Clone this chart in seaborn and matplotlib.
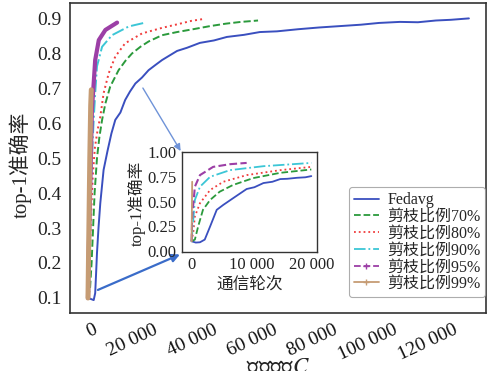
import matplotlib
matplotlib.use("Agg")
import matplotlib.pyplot as plt
import matplotlib.transforms as mtransforms
from matplotlib.lines import Line2D
import seaborn as sns
import pandas as pd

# ---------------- data (main: communication cost C) ----------------
fed_cost = [0, 1000, 1900, 2400, 2700, 3000, 3500, 4100, 5200, 6500, 7800, 9100, 10800, 12400, 14000,
            15800, 18000, 20200, 22500, 24700, 27000, 29700, 33000, 37300, 42000, 46300, 52000, 57300,
            63000, 70000, 77000, 84000, 91000, 97000, 104000, 110000, 116000, 121000, 127000]
fed_acc = [0.100, 0.097, 0.094, 0.114, 0.170, 0.229, 0.300, 0.371, 0.466, 0.520, 0.570, 0.609, 0.630,
           0.666, 0.690, 0.713, 0.730, 0.751, 0.766, 0.780, 0.792, 0.806, 0.815, 0.829, 0.836, 0.846,
           0.852, 0.860, 0.862, 0.868, 0.873, 0.877, 0.881, 0.886, 0.889, 0.888, 0.893, 0.895, 0.899]

p70_cost = [0, 700, 1200, 1700, 2200, 3000, 3800, 4700, 5800, 7400, 10200, 12500, 14700, 17500, 20200,
            24700, 29700, 35000, 40700, 46000, 51000, 54000, 56700]
p70_acc = [0.100, 0.130, 0.200, 0.300, 0.400, 0.500, 0.560, 0.609, 0.656, 0.704, 0.751, 0.778, 0.799,
           0.818, 0.833, 0.851, 0.860, 0.868, 0.877, 0.884, 0.889, 0.891, 0.893]

p80_cost = [0, 500, 1000, 1600, 2300, 3200, 4100, 5200, 6900, 9100, 12400, 18000, 24700, 30700, 34500, 38300]
p80_acc = [0.100, 0.200, 0.330, 0.450, 0.530, 0.580, 0.618, 0.685, 0.742, 0.790, 0.828, 0.856, 0.872,
           0.884, 0.892, 0.897]

p90_cost = [0, 400, 900, 1400, 1900, 2400, 3000, 4700, 8000, 13600, 19100]
p90_acc = [0.100, 0.250, 0.400, 0.520, 0.609, 0.685, 0.762, 0.818, 0.851, 0.876, 0.887]

p95_cost = [0, 300, 700, 1000, 1300, 1900, 2400, 3600, 5800, 9700]
p95_acc = [0.100, 0.250, 0.400, 0.520, 0.637, 0.714, 0.780, 0.837, 0.866, 0.887]

p99_cost = [0, 300, 600, 900, 1100]
p99_acc = [0.100, 0.300, 0.500, 0.650, 0.695]

# ---------------- data (inset: communication rounds) ----------------
fed_rounds = [0, 700, 1400, 2200, 3100, 4200, 5300, 7000, 9200, 10500, 12000, 13500, 14800, 16000,
              17600, 19000, 20000]
fed_acc_r = [0.100, 0.087, 0.090, 0.117, 0.250, 0.417, 0.467, 0.537, 0.627, 0.645, 0.687, 0.700,
             0.727, 0.730, 0.740, 0.745, 0.757]
p70_rounds = [0, 550, 1100, 1900, 3100, 4700, 6900, 10300, 14800, 20000]
p70_acc_r = [0.100, 0.117, 0.250, 0.417, 0.517, 0.600, 0.667, 0.737, 0.790, 0.824]
p80_rounds = [0, 300, 550, 1400, 3100, 5300, 9200, 14800, 20000]
p80_acc_r = [0.100, 0.200, 0.350, 0.484, 0.617, 0.700, 0.767, 0.817, 0.850]
p90_rounds = [0, 100, 550, 1400, 3100, 6400, 12000, 20000]
p90_acc_r = [0.100, 0.180, 0.517, 0.650, 0.750, 0.817, 0.857, 0.890]
p95_rounds = [0, 100, 550, 1400, 3600, 6400, 9200]
p95_acc_r = [0.100, 0.350, 0.650, 0.767, 0.850, 0.877, 0.890]
p99_rounds = [0, 50, 100]
p99_acc_r = [0.100, 0.400, 0.700]

labels = ["Fedavg", "剪枝比例70%", "剪枝比例80%", "剪枝比例90%", "剪枝比例95%", "剪枝比例99%"]
main_x_ticks = [0, 20000, 40000, 60000, 80000, 100000, 120000]
main_x_ticklabels = ["0", "20 000", "40 000", "60 000", "80 000", "100 000", "120 000"]
main_y_ticks = [0.1, 0.2, 0.3, 0.4, 0.5, 0.6, 0.7, 0.8, 0.9]
ins_x_ticks = [0, 10000, 20000]
ins_x_ticklabels = ["0", "10 000", "20 000"]
ins_y_ticks = [0.0, 0.25, 0.5, 0.75, 1.0]

# ---------------- style ----------------
sns.set_style("white")
plt.rcParams["font.family"] = ["Liberation Serif", "Noto Sans CJK SC"]
plt.rcParams["mathtext.fontset"] = "stix"
plt.rcParams["axes.unicode_minus"] = False

colors = ["#3a4fbf", "#2b9a3c", "#f03c3c", "#3cc6d6", "#9c3fa6", "#c69c74"]
styles = ["-", "--", ":", "-.", "--", "-"]

fig = plt.figure(figsize=(4.88, 3.71), dpi=100)
ax = fig.add_axes([70 / 488, 1 - 313 / 371, 416 / 488, 310 / 371])

main_series = [(fed_cost, fed_acc), (p70_cost, p70_acc), (p80_cost, p80_acc),
               (p90_cost, p90_acc), (p95_cost, p95_acc), (p99_cost, p99_acc)]
main_lw = [1.4, 1.4, 1.4, 1.4, 3.0, 3.6]
main_ls = ["-", "--", ":", "-.", "-", "-"]
for (xs, ys), c, ls, lw in zip(main_series, colors, main_ls, main_lw):
    df = pd.DataFrame({"x": xs, "y": ys})
    sns.lineplot(data=df, x="x", y="y", ax=ax, color=c, linestyle=ls, lw=lw,
                 sort=False, estimator=None)

ax.set_xlim(-6000, 132700)
ax.set_ylim(0.0571, 0.943)
ax.set_xticks(main_x_ticks)
ax.set_xticklabels(main_x_ticklabels, rotation=25, ha="right", rotation_mode="anchor")
ax.set_yticks(main_y_ticks)
ax.set_yticklabels([f"{v:.1f}" for v in main_y_ticks])
ax.tick_params(direction="in", length=4, width=1, labelsize=14, colors="#222222", pad=6)
shift = mtransforms.ScaledTranslation(5 / 100, 0, fig.dpi_scale_trans)
for lab in ax.get_xticklabels():
    lab.set_color("#111111")
    lab.set_transform(lab.get_transform() + shift)
for s in ax.spines.values():
    s.set_color("#333333")
    s.set_linewidth(1.2)
ax.set_xlabel("通信成本$C$", fontsize=16.5)
ax.xaxis.set_label_coords(0.5, -0.142)
ax.xaxis.label.set_va("top")
ax.set_ylabel("top-1准确率", fontsize=15)
ax.yaxis.set_label_coords(-0.092, 0.477)

# legend
handles = []
markers = [None, None, None, None, "+", "+"]
for c, ls, m in zip(colors, styles, markers):
    handles.append(Line2D([0], [0], color=c, linestyle=ls, lw=1.3, marker=m, markersize=5))
leg = ax.legend(handles, labels, loc="lower right", bbox_to_anchor=(0.998, 0.052),
                borderaxespad=0.0, fontsize=11.5, handlelength=1.6, labelspacing=0.05,
                handletextpad=0.5, borderpad=0.3, frameon=True, fancybox=True)
leg.get_frame().set_edgecolor("#999999")
leg.get_frame().set_linewidth(0.8)

# inset
axins = fig.add_axes([182 / 488, 1 - 251.5 / 371, 134.7 / 488, 99.5 / 371])
ins_series = [(fed_rounds, fed_acc_r), (p70_rounds, p70_acc_r), (p80_rounds, p80_acc_r),
              (p90_rounds, p90_acc_r), (p95_rounds, p95_acc_r), (p99_rounds, p99_acc_r)]
ins_lw = [1.3, 1.3, 1.3, 1.3, 1.5, 1.3]
for (xs, ys), c, ls, lw in zip(ins_series, colors, styles, ins_lw):
    df = pd.DataFrame({"x": xs, "y": ys})
    sns.lineplot(data=df, x="x", y="y", ax=axins, color=c, linestyle=ls, lw=lw,
                 sort=False, estimator=None)
axins.set_xlim(-1600, 20900)
axins.set_ylim(-0.003, 1.0)
axins.set_xticks(ins_x_ticks)
axins.set_xticklabels(ins_x_ticklabels)
axins.set_yticks(ins_y_ticks)
axins.set_yticklabels([f"{v:.2f}" for v in ins_y_ticks])
axins.tick_params(direction="in", length=3, width=0.9, labelsize=12, colors="#222222", pad=4)
for s in axins.spines.values():
    s.set_color("#333333")
    s.set_linewidth(1.0)
axins.set_xlabel("通信轮次", fontsize=12)
axins.xaxis.set_label_coords(0.5, -0.25)
axins.xaxis.label.set_va("top")
axins.set_ylabel("top-1准确率", fontsize=12)
axins.yaxis.set_label_coords(-0.265, 0.48)

# arrows pointing to the inset
arrow_color = "#3a6cc9"
ax.annotate("", xy=(-0.01, 1.01), xycoords=axins.transAxes, xytext=(18300, 0.70),
            textcoords="data",
            arrowprops=dict(arrowstyle="-|>", color="#6f93d8", lw=1.0, shrinkA=0, shrinkB=0,
                            mutation_scale=10))
ax.annotate("", xy=(-0.015, -0.03), xycoords=axins.transAxes, xytext=(3300, 0.123),
            textcoords="data",
            arrowprops=dict(arrowstyle="-|>", color=arrow_color, lw=1.6, shrinkA=0, shrinkB=0,
                            mutation_scale=12))

fig.savefig("out.png", dpi=100)
